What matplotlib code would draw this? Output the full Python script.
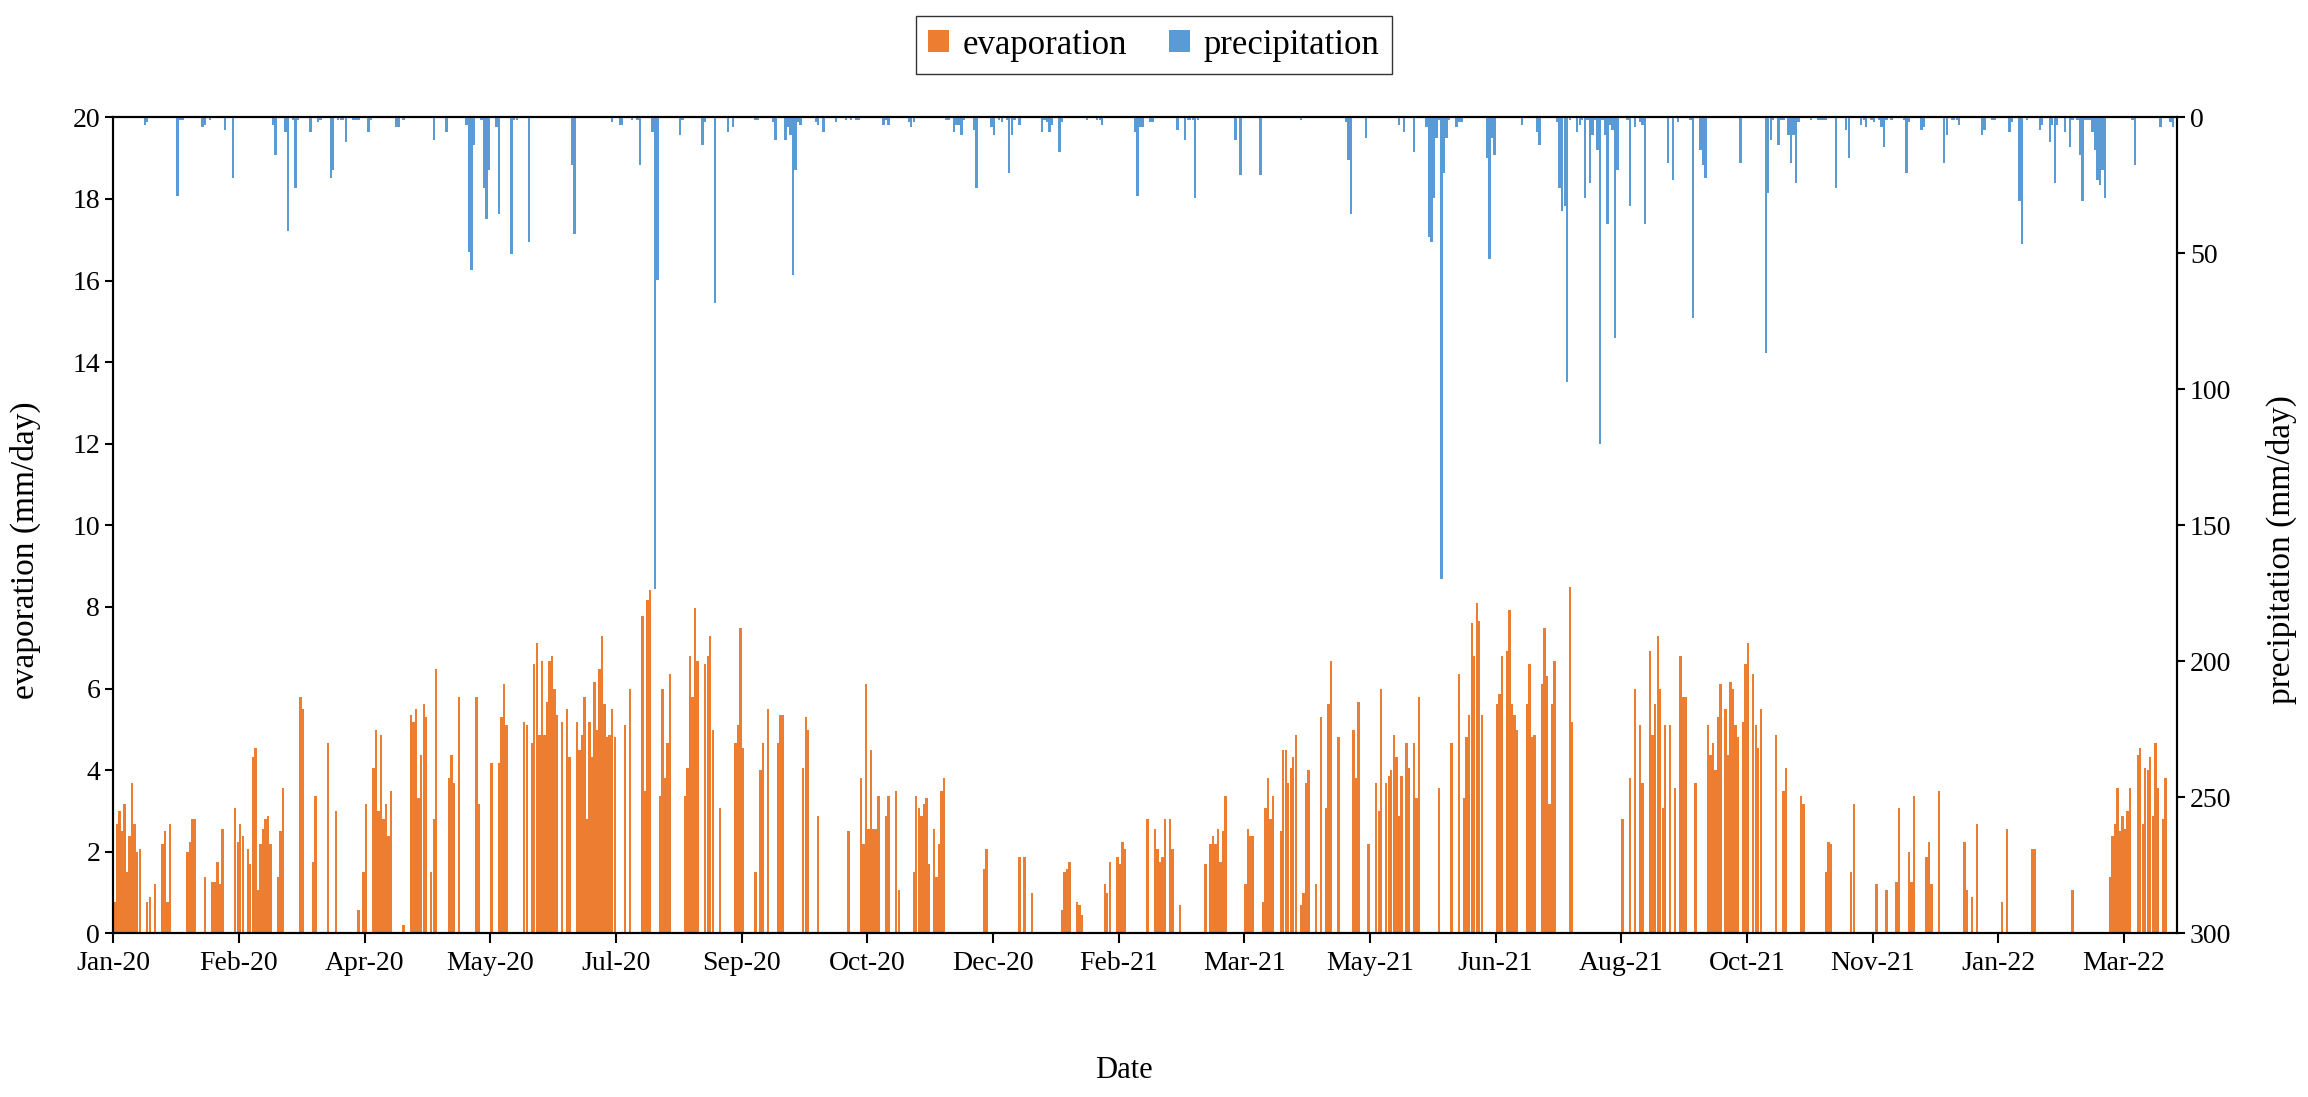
import numpy as np
import matplotlib.pyplot as plt

plt.rcParams['font.family'] = ['Liberation Serif', 'DejaVu Serif']

# daily series, day 0 = first day on the axis
n_days = 821
tick_labels = ["Jan-20", "Feb-20", "Apr-20", "May-20", "Jul-20", "Sep-20",
               "Oct-20", "Dec-20", "Feb-21", "Mar-21", "May-21", "Jun-21",
               "Aug-21", "Oct-21", "Nov-21", "Jan-22", "Mar-22"]

# evaporation (mm/day): start day of each run of non-zero days, and the values
evap_start = [0, 13, 16, 19, 29, 36, 39, 48, 53, 65, 74, 79, 85, 88, 97, 99,
              103, 115, 118, 126, 133, 137, 144, 150, 153, 163, 166, 178, 180,
              184, 203, 205, 210, 217, 227, 235, 241, 247, 255, 257, 260, 264,
              274, 280, 292, 297, 307, 311, 318, 326, 346, 360, 362, 365, 377,
              383, 394, 399, 411, 414, 420, 424, 434, 436, 450, 457, 464, 472,
              478, 480, 482, 487, 493, 499, 502, 506, 514, 517, 527, 532, 535,
              537, 550, 554, 562, 568, 579, 600, 603, 605, 607, 611, 619, 621,
              623, 629, 634, 641, 648, 652, 661, 664, 671, 681, 691, 701, 705,
              709, 714, 721, 726, 736, 739, 741, 751, 753, 763, 779, 794, 805,
              815]
evap_vals = [
    [0.76, 2.68, 2.99, 2.5, 3.18, 1.51, 2.38, 3.68, 2.68, 1.99, 2.06],
    [0.76, 0.88], [1.2], [2.19, 2.5, 0.76, 2.68], [1.99, 2.25, 2.81, 2.81],
    [1.38], [1.26, 1.26, 1.75, 1.2, 2.56], [3.06, 2.25, 2.68, 2.38],
    [2.06, 1.69, 4.31, 4.55, 1.07, 2.19, 2.56, 2.81, 2.87, 2.19],
    [1.38, 2.5, 3.55], [5.8, 5.49], [1.75, 3.37], [4.67], [2.99], [0.57],
    [1.5, 3.18], [4.05, 4.98, 2.99, 4.86, 2.81, 3.18, 2.38, 3.5], [0.2],
    [5.36, 5.17, 5.49, 3.31, 4.36, 5.61, 5.3], [1.5, 2.81, 6.49],
    [3.81, 4.36, 3.68], [5.8], [5.8, 3.18], [4.17], [4.17, 5.3, 6.11, 5.11],
    [5.17, 5.11],
    [4.67, 6.61, 7.11, 4.86, 6.67, 4.86, 5.67, 6.67, 6.79, 5.98, 5.36],
    [5.17], [5.49, 4.31],
    [5.17, 4.49, 4.86, 5.8, 2.81, 5.17, 4.31, 6.17, 4.98, 6.49, 7.29, 5.61,
     4.8, 4.86, 5.49, 4.8],
    [5.11], [5.98], [7.79, 3.5, 8.16, 8.42], [3.37, 5.98, 3.81, 4.67, 6.36],
    [3.37, 4.05, 6.79, 5.8, 7.97, 6.67], [6.61, 6.79, 7.29, 4.98], [3.06],
    [4.67, 5.11, 7.48, 4.55], [1.5], [4.0, 4.67], [5.49], [4.67, 5.36, 5.36],
    [4.05, 5.3, 4.98], [2.87], [2.5],
    [3.81, 2.19, 6.11, 2.56, 4.49, 2.56, 2.56, 3.37], [2.87, 3.37],
    [3.5, 1.07], [1.5, 3.37, 3.06, 2.87, 3.18, 3.31, 1.69],
    [2.56, 1.38, 2.19, 3.5, 3.81], [1.57, 2.06], [1.87], [1.87], [1.0],
    [0.57, 1.5, 1.57, 1.75], [0.76, 0.69, 0.45], [1.2, 1.0, 1.75],
    [1.87, 1.69, 2.25, 2.06], [2.81], [2.56, 2.06, 1.75, 1.87, 2.81],
    [2.81, 2.06], [0.69], [1.69], [2.19, 2.38, 2.19, 2.56, 1.75, 2.5, 3.37],
    [1.2, 2.56, 2.38, 2.38], [0.76, 3.06, 3.81, 2.81, 3.37],
    [2.5, 4.49, 4.49, 3.68, 4.05, 4.31, 4.86], [0.69, 1.0, 3.68, 4.0], [1.2],
    [5.3], [3.06, 5.61, 6.67], [4.8], [4.98, 3.81, 5.67], [2.19],
    [3.68, 2.99, 5.98], [3.68, 3.86, 4.0, 4.86, 4.31, 2.87, 3.86],
    [4.67, 4.05], [4.67, 3.31, 5.8], [3.55], [4.67], [6.36],
    [3.31, 4.8, 5.36, 7.61, 6.79, 8.1, 7.66, 5.36], [5.61, 5.86, 6.79],
    [6.91, 7.92, 5.61, 5.36, 4.98], [5.61, 6.61, 4.8, 4.86],
    [6.11, 7.48, 6.3, 3.18, 5.61, 6.67], [8.48, 5.17], [2.81], [3.81], [5.98],
    [5.11, 3.68], [6.91, 4.86, 5.61, 7.29, 5.98, 3.06, 5.11], [5.11], [3.55],
    [6.79, 5.8, 5.8], [3.68], [5.11, 4.36, 4.67, 4.0, 5.3, 6.11],
    [5.49, 4.36, 6.17, 5.98, 5.11, 4.8], [5.17, 6.61, 7.11],
    [6.36, 5.11, 4.55, 5.49], [4.86], [3.5, 4.05], [3.37, 3.18],
    [1.5, 2.25, 2.19], [1.5, 3.18], [1.2], [1.07], [1.26, 3.06],
    [2.0, 1.26, 3.37], [1.87, 2.25, 1.2], [3.5], [2.25, 1.07], [0.88], [2.68],
    [0.76], [2.56], [2.06, 2.06], [1.07],
    [1.38, 2.38, 2.68, 3.55, 2.5, 2.87, 2.56, 2.99, 3.55],
    [4.36, 4.55, 2.68, 4.05, 4.0, 4.31, 2.87, 4.67, 3.55], [2.81, 3.81]]

# precipitation (mm/day), same layout
prec_start = [12, 25, 35, 38, 44, 47, 63, 68, 71, 78, 81, 86, 89, 95, 101, 112,
              115, 127, 132, 140, 146, 152, 158, 165, 182, 198, 201, 206, 208,
              214, 225, 234, 239, 244, 246, 255, 262, 267, 279, 282, 287, 291,
              293, 295, 306, 316, 331, 334, 342, 349, 352, 355, 360, 369, 376,
              387, 391, 406, 412, 423, 426, 446, 448, 456, 472, 490, 498, 511,
              513, 517, 522, 534, 546, 560, 566, 574, 582, 602, 605, 607, 618,
              620, 622, 627, 631, 647, 657, 662, 666, 675, 678, 685, 689, 695,
              699, 702, 707, 712, 719, 728, 731, 743, 747, 754, 758, 761, 766,
              770, 776, 778, 781, 803, 814, 818]
prec_vals = [
    [2.7, 1.6], [28.8, 0.9, 0.9], [3.6, 2.7], [0.9], [4.5], [22.2],
    [2.7, 13.8], [5.5, 41.9], [0.9, 26.0, 0.9], [5.5], [1.7, 0.9],
    [22.2, 19.5], [0.9, 0.9, 0.9, 9.2], [0.9, 0.9, 0.9], [5.5, 0.9],
    [3.6, 3.6], [0.9], [8.2], [5.5], [2.7, 49.4, 56.0, 10.2],
    [0.9, 26.0, 37.3, 19.5], [3.6, 35.4], [50.4, 0.9, 0.9], [45.7],
    [17.6, 42.9], [1.7], [2.7, 2.7], [0.9], [0.9, 17.6], [5.5, 173.5, 59.7],
    [6.4, 0.9], [10.2, 1.7], [68.1], [5.5], [3.6], [0.9, 0.9], [1.7, 8.2],
    [8.2, 3.6, 6.4, 57.8, 19.5, 1.7, 2.7], [1.7, 2.7], [5.5], [1.7], [0.9],
    [0.9], [0.9, 0.9], [2.7, 0.9, 2.7], [1.7, 3.6, 1.7], [0.9, 0.9],
    [5.5, 2.7, 2.7, 6.4, 0.9], [4.5, 26.0], [3.6, 6.4], [0.9, 1.7],
    [0.9, 20.3, 6.4, 0.9], [2.7], [5.5, 0.9, 1.7, 5.5, 2.7], [12.9, 1.7],
    [0.9], [0.9, 0.9, 2.7], [5.5, 28.8, 3.6, 3.6], [1.7, 1.7], [4.5],
    [8.2, 0.9, 0.9, 0.9, 29.8, 0.9], [8.2], [21.3], [21.3], [0.9],
    [1.7, 15.7, 35.4], [7.4], [2.7], [5.5], [12.9],
    [3.6, 43.8, 45.7, 29.8, 7.4, 0.9, 169.7, 20.3, 7.4, 0.9],
    [3.6, 1.7, 1.7], [14.8, 52.2, 7.4, 13.8], [2.7], [5.5, 10.2],
    [1.7, 26.0, 34.4, 32.6, 97.2, 0.9],
    [5.5, 2.7, 0.9, 29.8, 0.9, 24.1, 6.4, 0.9, 12.0, 120.1, 0.9, 6.4, 39.1,
     2.7, 4.5, 81.1, 19.5],
    [0.9, 32.6], [3.6], [1.7, 2.7, 39.1], [16.7], [23.2], [1.7], [0.9, 73.7],
    [12.0, 17.6, 22.2], [16.7], [86.8, 27.8, 8.2, 0.9], [10.2, 0.9, 0.9],
    [6.4, 16.7, 6.4, 24.1, 1.7], [0.9], [0.9, 0.9, 0.9, 0.9], [26.0],
    [4.5, 14.8], [2.7, 0.9, 3.6], [0.9, 1.7], [0.9, 3.6, 11.0, 0.9], [0.9],
    [0.9, 20.3, 1.7], [4.5, 3.6], [16.7, 6.4], [0.9, 0.9, 0.9, 2.7],
    [6.4, 4.5], [0.9, 0.9], [5.5, 1.7], [30.6, 46.6], [0.9], [4.5, 2.7],
    [9.2, 2.7, 24.1, 2.7], [5.5], [11.0, 0.9],
    [0.9, 13.8, 30.6, 0.9, 0.9, 0.9, 5.5, 12.0, 23.2, 25.0, 19.5, 29.8],
    [0.9, 17.6], [3.6], [1.7, 3.6]]


def expand(starts, runs):
    days, vals = [], []
    for s, run in zip(starts, runs):
        for k, v in enumerate(run):
            days.append(s + k)
            vals.append(v)
    return np.array(days), np.array(vals)


def __main():
    evap_day, evap = expand(evap_start, evap_vals)
    prec_day, prec = expand(prec_start, prec_vals)

    fig = plt.figure(figsize=(23.08, 10.97), dpi=100)
    ax = fig.add_axes([0.0491, 0.1492, 0.894, 0.7438])

    ax.bar(evap_day + 0.5, evap, width=0.95, color="#ED7D31", linewidth=0,
           label="evaporation")
    ax.set_xlim(0, n_days)
    ax.set_ylim(0, 20)
    ax.set_yticks(np.arange(0, 21, 2))
    ax.set_xticks(np.arange(0, 50 * len(tick_labels), 50))
    ax.set_xticklabels(tick_labels)

    ax2 = ax.twinx()
    ax2.bar(prec_day + 0.5, prec, width=0.95, color="#5B9BD5", linewidth=0,
            label="precipitation")
    ax2.set_ylim(300, 0)
    ax2.set_yticks(np.arange(0, 301, 50))

    for a in (ax, ax2):
        for sp in a.spines.values():
            sp.set_linewidth(1.5)
            sp.set_color("black")
        a.tick_params(labelsize=20, width=1.5, length=6, direction="out")
    ax.tick_params(axis="x", length=7, pad=6)

    ax.set_xlabel("Date", fontsize=22)
    ax.xaxis.set_label_coords(0.49, -0.15)
    ax.set_ylabel("evaporation (mm/day)", fontsize=24)
    ax.yaxis.set_label_coords(-0.035, 0.47)
    ax2.set_ylabel("precipitation (mm/day)", fontsize=24, rotation=90)
    ax2.yaxis.set_label_coords(1.043, 0.47)

    h1, l1 = ax.get_legend_handles_labels()
    h2, l2 = ax2.get_legend_handles_labels()
    leg = fig.legend(h1 + h2, l1 + l2, loc="upper center",
                     bbox_to_anchor=(0.5, 0.985), ncol=2, fontsize=25,
                     fancybox=False, edgecolor="black", handlelength=0.6,
                     handleheight=0.6, handletextpad=0.4, columnspacing=1.2,
                     borderpad=0.35, borderaxespad=0)
    leg.get_frame().set_linewidth(1.0)

    fig.savefig("out.png", dpi=100)


if __name__ == "__main__":
    __main()
